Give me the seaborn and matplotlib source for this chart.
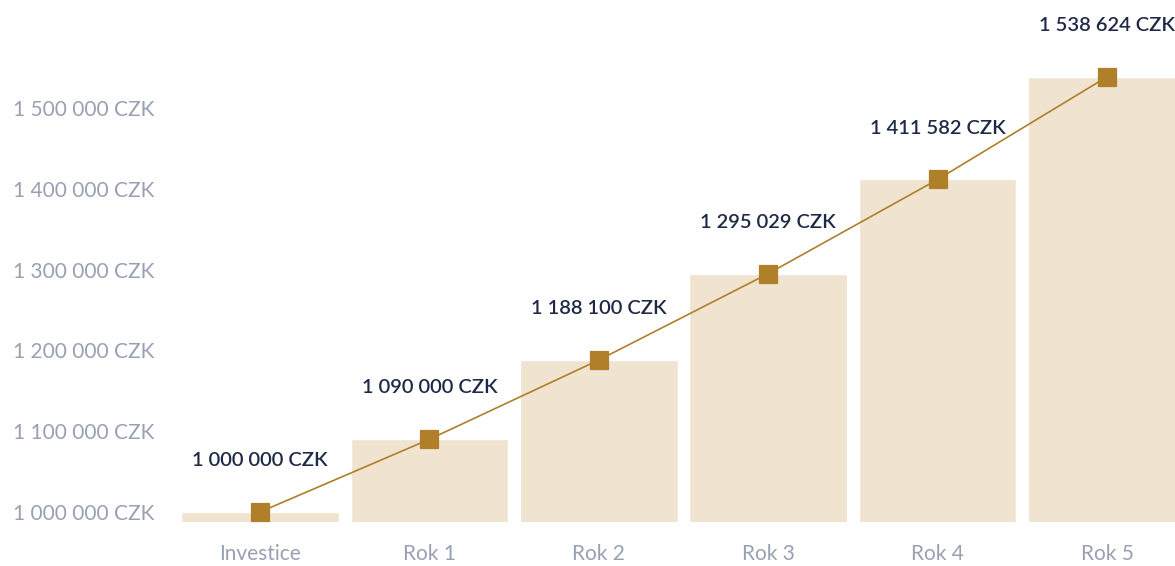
import pandas as pd
import matplotlib
matplotlib.use("Agg")
import matplotlib.pyplot as plt
import seaborn as sns

# data
categories = ["Investice", "Rok 1", "Rok 2", "Rok 3", "Rok 4", "Rok 5"]
values = [1000000, 1090000, 1188100, 1295029, 1411582, 1538624]
yticks = [1000000, 1100000, 1200000, 1300000, 1400000, 1500000]

df = pd.DataFrame({"label": categories, "value": values})

def czk(v):
    return "{:,}".format(v).replace(",", " ") + " CZK"

sns.set_style("white")
plt.rcParams['font.family'] = ['Lato', 'DejaVu Sans']

bar_col = "#F0E3D0"
line_col = "#B07F2A"
text_col = "#1E2A45"
tick_col = "#98A0B2"

fig = plt.figure(figsize=(11.75, 5.66), dpi=100)
ax = fig.add_axes([0.1535, 0.0777, 0.8465, 0.9223])

sns.barplot(data=df, x="label", y="value", color=bar_col, width=0.93,
            saturation=1, ax=ax, zorder=1)
sns.pointplot(data=df, x="label", y="value", color=line_col, marker="s",
              markersize=12.5, linewidth=1.2, ax=ax, zorder=3)

for i, v in enumerate(values):
    ax.annotate(czk(v), (i, v), xytext=(0, 37), textcoords="offset points",
                ha="center", va="center", fontsize=14.5, fontweight="semibold",
                color=text_col)

ax.set_xlim(-0.47, 5.401)
ax.set_ylim(987600, 1633700)
ax.set_yticks(yticks)
ax.set_yticklabels([czk(t) for t in yticks])
ax.set_xlabel("")
ax.set_ylabel("")
ax.tick_params(axis="y", length=0, pad=19, labelsize=15, labelcolor=tick_col)
ax.tick_params(axis="x", length=0, pad=16, labelsize=15, labelcolor=tick_col)
sns.despine(ax=ax, left=True, bottom=True)

fig.savefig("out.png", dpi=100)
